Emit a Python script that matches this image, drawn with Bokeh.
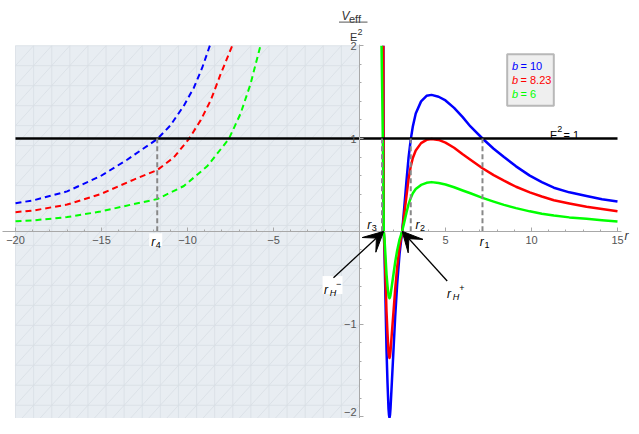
import numpy as np
from bokeh.plotting import figure
from bokeh.models import Range1d, LinearAxis, FixedTicker, Arrow, VeeHead
from bokeh.embed import file_html
from bokeh.resources import INLINE
from bokeh.core.properties import value

FONT = "Liberation Sans"

# ---------------- data ----------------
b_values = ["10", "8.23", "6"]
curve_colors = ["#0000ff", "#ff0000", "#00ff00"]

# solid branches, r > 0
r_blue = [1.39, 1.397, 1.404, 1.41, 1.453, 1.492, 1.531, 1.570, 1.628, 1.686,
          1.715, 1.744, 1.773, 1.802, 1.880, 1.977, 2.074, 2.19, 2.33, 2.48,
          2.58, 2.73, 2.85, 2.98, 3.1, 3.27, 3.58, 3.9, 4.19, 4.6, 5.0, 5.5,
          6.0, 6.45, 7.15, 7.8, 8.4, 9.1, 9.9, 10.6, 11.3, 12.2, 13.2, 14.1, 15.0]
V_blue = [2.0, 1.2, 0.5, 0.0, -0.218, -0.571, -0.924, -1.277, -1.630, -1.912,
          -1.98, -2.01, -1.98, -1.912, -1.630, -1.277, -0.924, -0.571, -0.24, 0.0,
          0.21, 0.54, 0.79, 0.99, 1.13, 1.27, 1.40, 1.46, 1.47, 1.45, 1.41, 1.33,
          1.23, 1.13, 1.0, 0.89, 0.80, 0.70, 0.60, 0.53, 0.47, 0.42, 0.38, 0.345, 0.32]

r_red = [1.385, 1.394, 1.403, 1.41, 1.453, 1.492, 1.531, 1.570, 1.628, 1.686,
         1.715, 1.744, 1.773, 1.802, 1.880, 1.977, 2.074, 2.19, 2.33, 2.48,
         2.58, 2.73, 2.85, 2.98, 3.1, 3.27, 3.58, 3.9, 4.19, 4.6, 5.0, 5.5,
         6.0, 6.45, 7.15, 7.8, 8.4, 9.1, 9.9, 10.6, 11.3, 12.2, 13.2, 14.1, 15.0]
V_red = [2.0, 1.2, 0.5, 0.0, -0.148, -0.387, -0.626, -0.865, -1.10, -1.295,
         -1.345, -1.365, -1.345, -1.295, -1.10, -0.865, -0.626, -0.387, -0.165, 0.0,
         0.15, 0.38, 0.56, 0.70, 0.79, 0.87, 0.95, 0.985, 0.995, 0.985, 0.955, 0.90,
         0.83, 0.77, 0.68, 0.605, 0.545, 0.48, 0.42, 0.375, 0.335, 0.30, 0.265, 0.24, 0.215]

r_green = [1.28, 1.32, 1.355, 1.39, 1.41, 1.453, 1.492, 1.531, 1.570, 1.628, 1.686,
           1.715, 1.744, 1.773, 1.802, 1.880, 1.977, 2.074, 2.19, 2.33, 2.48,
           2.58, 2.73, 2.85, 2.98, 3.1, 3.27, 3.58, 3.9, 4.19, 4.6, 5.0, 5.5,
           6.0, 6.45, 7.15, 7.8, 8.4, 9.1, 9.9, 10.6, 11.3, 12.2, 13.2, 14.1, 15.0]
V_green = [2.0, 1.5, 1.0, 0.4, 0.0, -0.078, -0.206, -0.333, -0.46, -0.587, -0.688,
           -0.71, -0.722, -0.71, -0.688, -0.587, -0.46, -0.333, -0.206, -0.086, 0.0,
           0.08, 0.20, 0.29, 0.36, 0.41, 0.455, 0.50, 0.522, 0.53, 0.52, 0.505, 0.475,
           0.44, 0.41, 0.36, 0.32, 0.285, 0.25, 0.215, 0.19, 0.17, 0.15, 0.135, 0.12, 0.106]

# dashed branches, r < 0
rn_blue = [-20.0, -18.93, -17.0, -15.06, -13.51, -12.54, -11.76, -10.99, -10.21,
           -9.63, -9.15, -8.70]
Vn_blue = [0.302, 0.335, 0.43, 0.594, 0.771, 0.895, 0.994, 1.142, 1.354,
           1.548, 1.76, 2.0]
rn_red = [-20.0, -18.93, -17.0, -15.06, -13.12, -11.76, -10.80, -9.92, -9.24,
          -8.66, -8.08, -7.40]
Vn_red = [0.206, 0.225, 0.288, 0.40, 0.557, 0.66, 0.795, 0.994, 1.195,
          1.407, 1.69, 2.0]
rn_green = [-20.0, -18.93, -17.0, -15.06, -13.12, -11.76, -10.21, -8.86, -7.60,
            -6.92, -6.34, -5.76]
Vn_green = [0.107, 0.118, 0.153, 0.213, 0.294, 0.347, 0.488, 0.70, 0.994,
            1.266, 1.584, 2.0]

E2_level = 1.0
E2_span = [-20.0, 15.0]

turning_r = [7.15, 2.98, 1.31, -11.76]
turning_idx = ["1", "2", "3", "4"]
r_H_minus = 1.41
r_H_plus = 2.48

region_r = (-20.0, 0.0)
region_V = (-2.09, 2.0)

x_major = [-20, -15, -10, -5, 5, 10, 15]
x_minor = list(range(-20, 16))
y_major = [-2, -1, 1, 2]
y_minor = [round(-2 + 0.2 * k, 1) for k in range(21)]

# ---------------- layout helpers ----------------
# reference-picture pixel -> data (used only to place texts/annotations)
RX0, RSX, RY0, RSY = 359.0, 17.2, 232.8, 94.4
def rx(X):
    return (X - RX0) / RSX
def vy(Y):
    return (RY0 - Y) / RSY
def px(r):
    return RX0 + RSX * r

# canvas mapping (slightly compressed vertically so the whole well fits)
W, H = 631, 418
CY0, CSY = 230.8, 92.8
p = figure(width=W, height=H,
           x_range=Range1d(rx(0), rx(W)),
           y_range=Range1d((CY0 - H) / CSY, CY0 / CSY),
           output_backend="svg", toolbar_location=None, min_border=0,
           x_axis_type=None, y_axis_type=None)
p.outline_line_color = None
p.background_fill_color = "white"
p.border_fill_color = "white"

# shaded region with faint triangular mesh
p.quad(left=[region_r[0]], right=[region_r[1]], bottom=[region_V[0]], top=[region_V[1]],
       fill_color="#e8edf2", line_color=None)
n = 19
dr = (region_r[1] - region_r[0]) / n
dv = (region_V[1] - region_V[0]) / n
mx, my = [], []
for i in range(n + 1):
    mx.append([region_r[0] + i * dr] * 2); my.append([region_V[0], region_V[1]])
    mx.append([region_r[0], region_r[1]]); my.append([region_V[0] + i * dv] * 2)
for k in range(-n + 1, n):
    i0, j0 = max(0, k), max(0, -k)
    i1, j1 = min(n, n + k), min(n, n - k)
    mx.append([region_r[0] + i0 * dr, region_r[0] + i1 * dr])
    my.append([region_V[0] + j0 * dv, region_V[0] + j1 * dv])
p.multi_line(xs=mx, ys=my, line_color="#d8dee5", line_width=0.8)

# axes through the origin
axis_col = "#a8a8a8"
xa = LinearAxis(fixed_location=0, ticker=FixedTicker(ticks=x_major, minor_ticks=x_minor))
xa.major_label_overrides = {t: str(t).replace("-", "\u2212") for t in x_major}
xa.bounds = (rx(2), rx(621))
xa.axis_line_color = axis_col
xa.major_tick_line_color = axis_col
xa.minor_tick_line_color = axis_col
xa.major_tick_in, xa.major_tick_out = 4, 0
xa.minor_tick_in, xa.minor_tick_out = 2, 0
xa.major_label_standoff = 5
xa.major_label_text_font = FONT
xa.major_label_text_font_size = "11px"
xa.major_label_text_color = "#555555"
p.add_layout(xa, "below")

ya = LinearAxis(fixed_location=0, ticker=FixedTicker(ticks=y_major, minor_ticks=y_minor))
ya.major_label_overrides = {-2: "", -1: "\u22121", 1: "1", 2: "2"}
ya.bounds = (region_V[0], 2.01)
ya.axis_line_color = axis_col
ya.major_tick_line_color = axis_col
ya.minor_tick_line_color = axis_col
ya.major_tick_in, ya.major_tick_out = 4, 0
ya.minor_tick_in, ya.minor_tick_out = 2, 0
ya.major_label_standoff = 3
ya.major_label_text_font = FONT
ya.major_label_text_font_size = "11px"
ya.major_label_text_color = "#555555"
p.add_layout(ya, "left")

# curves
for rn, vn, col in [(rn_blue, Vn_blue, curve_colors[0]), (rn_red, Vn_red, curve_colors[1]),
                    (rn_green, Vn_green, curve_colors[2])]:
    p.line(rn, vn, line_color=col, line_width=2, line_dash="6 4")
for rr, vv, col in [(r_blue, V_blue, curve_colors[0]), (r_red, V_red, curve_colors[1]),
                    (r_green, V_green, curve_colors[2])]:
    p.line(rr, vv, line_color=col, line_width=2.5, line_join="round")

# E^2 = 1 line
p.line(E2_span, [E2_level, E2_level], line_color="black", line_width=2.5)

# turning point markers
p.segment(x0=turning_r, y0=[0] * 4, x1=turning_r, y1=[E2_level] * 4,
          line_color="#888888", line_width=2, line_dash="5 3")

def put(text, X, Y, size, color="black", italic=False, align="left", baseline="alphabetic"):
    p.text(x=[rx(X)], y=[vy(Y)], text=[text], text_font=value(FONT),
           text_font_size=f"{size}px", text_color=color,
           text_font_style="italic" if italic else "normal",
           text_align=align, text_baseline=baseline)

# "-2" tick label, lifted slightly so that it stays inside the page
p.text(x=[0], y=[-2], text=["\u22122"], text_font=value(FONT), text_font_size="11px",
       text_color="#555555", text_align="right", text_baseline="middle",
       x_offset=-3, y_offset=-5)

# white backgrounds behind r4 and rH- labels
p.rect(x=[rx(px(turning_r[3]) - 1.5)], y=[vy(241.5)], width=13, height=13,
       width_units="screen", height_units="screen", fill_color="white", line_color=None)
p.rect(x=[rx(332)], y=[vy(287.5)], width=20, height=18,
       width_units="screen", height_units="screen", fill_color="white", line_color=None)

# r_i labels: (dx of 'r', baseline Y of 'r')
lab_pos = [(-2.7, 243.5), (4.7, 226.5), (-14.8, 226.5), (-6.0, 243.5)]
for rt, idx, (dx, by) in zip(turning_r, turning_idx, lab_pos):
    X = px(rt) + dx
    put("r", X, by, 12, "black", italic=True)
    put(idx, X + 4.6, by + 3, 9, "black")

# horizon labels
put("r", 323.5, 293, 12, italic=True)
put("H", 329.2, 296, 9, italic=True)
put("\u2212", 335.5, 286, 9)
put("r", 446.5, 296.5, 12, italic=True)
put("H", 452.2, 299.5, 9, italic=True)
put("+", 458.8, 290, 9)

# arrows
head = dict(size=20, fill_color="black", line_color="black", line_width=1)
p.add_layout(Arrow(end=VeeHead(**head), x_start=rx(333.0), y_start=vy(280.0),
                   x_end=r_H_minus, y_end=0.0, line_color="black", line_width=1.3))
p.add_layout(Arrow(end=VeeHead(**head), x_start=rx(446.7), y_start=vy(283.3),
                   x_end=r_H_plus, y_end=0.0, line_color="black", line_width=1.3))

# E^2 = 1 text
put("E", 549.5, 134.5, 11)
put("2", 556.8, 129, 9)
put("= 1", 563, 134.5, 11)

# y-axis label  V_eff / E^2
put("V", 341, 14, 12, "#333333", italic=True)
put("eff", 348.5, 17, 11, "#333333")
p.segment(x0=[rx(338.5)], y0=[vy(20)], x1=[rx(367)], y1=[vy(20)], line_color="#555555", line_width=1)
put("E", 349.5, 35, 11, "#333333")
put("2", 357, 30, 9, "#333333")
# x-axis label
put("r", 624, 238, 12, "#333333", italic=True)

# legend
p.quad(left=[rx(506.7)], right=[rx(553.3)], top=[vy(52.7)], bottom=[vy(105)],
       fill_color="#efefef", line_color="#b8b8b8", line_width=2)
for k, (bv, col) in enumerate(zip(b_values, curve_colors)):
    base = 65 + 14 * k
    put("b", 511.5, base, 11, col, italic=True)
    put("= " + bv, 520, base, 11, col)

open("out.html", "w").write(file_html(p, INLINE))
